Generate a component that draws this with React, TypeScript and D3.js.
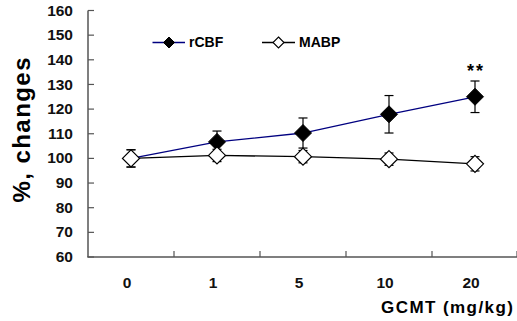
import React from "react";
import * as d3 from "d3";

const categories = ["0", "1", "5", "10", "20"];
const rcbfMean = [100, 106.7, 110.3, 117.9, 125];
const rcbfErr = [3.5, 4.4, 6.1, 7.6, 6.4];
const mabpMean = [100, 101.2, 100.7, 99.7, 97.8];
const mabpErr = [3.5, 2.5, 2.5, 2.5, 2.9];
const yTicks = [60, 70, 80, 90, 100, 110, 120, 130, 140, 150, 160];

const W = 517;
const H = 321;

export default function App() {
  const x = d3.scaleBand<string>().domain(categories).range([88, 518]).padding(0);
  const y = d3.scaleLinear().domain([60, 160]).range([257, 10.5]);
  const cx = (c: string) => (x(c) as number) + x.bandwidth() / 2;
  const line = d3
    .line<number>()
    .x((_, i) => cx(categories[i]))
    .y((d) => y(d));
  const diamond = (px: number, py: number, r: number) =>
    `M${px},${py - r}L${px + r},${py}L${px},${py + r}L${px - r},${py}Z`;
  const font = "'Liberation Sans', Arial, sans-serif";
  const axisColor = "#555";

  const errBars = (mean: number[], err: number[], key: string) =>
    mean.map((m, i) => {
      const px = cx(categories[i]);
      const t = y(m + err[i]);
      const b = y(m - err[i]);
      return (
        <g key={key + i} stroke="#000" strokeWidth={1.2}>
          <line x1={px} x2={px} y1={t} y2={b} />
          <line x1={px - 4.5} x2={px + 4.5} y1={t} y2={t} />
          <line x1={px - 4.5} x2={px + 4.5} y1={b} y2={b} />
        </g>
      );
    });

  return (
    <svg
      width={W}
      height={H}
      style={{ position: "absolute", left: 0, top: 0, background: "#fff" }}
      fontFamily={font}
    >
      <rect width={W} height={H} fill="#fff" />
      {/* axes */}
      <line x1={88} x2={88} y1={y(160)} y2={y(60)} stroke={axisColor} strokeWidth={1.5} />
      <line x1={87.25} x2={518} y1={y(60)} y2={y(60)} stroke={axisColor} strokeWidth={1.5} />
      {yTicks.map((t) => (
        <g key={"yt" + t}>
          <line x1={88} x2={94} y1={y(t)} y2={y(t)} stroke={axisColor} strokeWidth={1.2} />
          <text
            x={73}
            y={y(t) + 1}
            textAnchor="end"
            dominantBaseline="middle"
            fontSize={15.5}
            fontWeight="bold"
            fill="#111"
          >
            {t}
          </text>
        </g>
      ))}
      {categories.map((c, i) => (
        <g key={"xt" + c}>
          {i > 0 && (
            <line
              x1={x(c) as number}
              x2={x(c) as number}
              y1={y(60)}
              y2={y(60) - 6}
              stroke={axisColor}
              strokeWidth={1.2}
            />
          )}
          <text
            x={cx(c) - 4}
            y={284}
            textAnchor="middle"
            dominantBaseline="middle"
            fontSize={15.5}
            fontWeight="bold"
            fill="#111"
          >
            {c}
          </text>
        </g>
      ))}
      <line x1={517} x2={517} y1={y(60)} y2={y(60) - 6} stroke={axisColor} strokeWidth={1.2} />

      {/* titles */}
      <text
        x={381}
        y={309}
        dominantBaseline="middle"
        fontSize={17}
        fontWeight="bold"
        fill="#000"
        textLength={132}
        lengthAdjust="spacing"
      >
        GCMT (mg/kg)
      </text>
      <text
        transform="translate(30,130) rotate(-90)"
        textAnchor="middle"
        fontSize={24}
        fontWeight="bold"
        fill="#000"
        textLength={145}
        lengthAdjust="spacing"
      >
        %, changes
      </text>

      {/* series lines */}
      <path d={line(mabpMean) || ""} fill="none" stroke="#000" strokeWidth={1.3} />
      <path d={line(rcbfMean) || ""} fill="none" stroke="#000080" strokeWidth={1.3} />

      {errBars(rcbfMean, rcbfErr, "re")}
      {rcbfMean.map((m, i) => (
        <path
          key={"rm" + i}
          d={diamond(cx(categories[i]), y(m), 8.5)}
          fill="#000"
          stroke="#000"
          strokeWidth={1}
        />
      ))}
      {errBars(mabpMean, mabpErr, "me")}
      {mabpMean.map((m, i) => (
        <path
          key={"mm" + i}
          d={diamond(cx(categories[i]), y(m), 8.5)}
          fill="#fff"
          stroke="#000"
          strokeWidth={1.2}
        />
      ))}

      <text
        x={cx("20") + 1}
        y={77}
        textAnchor="middle"
        fontSize={18}
        fontWeight="bold"
        fill="#000"
        letterSpacing={2}
      >
        **
      </text>

      {/* legend */}
      <line x1={152.5} x2={185} y1={42.5} y2={42.5} stroke="#000080" strokeWidth={1.3} />
      <path d={diamond(169, 42.5, 5.5)} fill="#000" stroke="#000" />
      <text x={189} y={43} dominantBaseline="middle" fontSize={14} fontWeight="bold" fill="#000">
        rCBF
      </text>
      <line x1={262} x2={295} y1={42.5} y2={42.5} stroke="#000" strokeWidth={1.3} />
      <path d={diamond(278.5, 42.5, 5.5)} fill="#fff" stroke="#000" strokeWidth={1.1} />
      <text x={299} y={43} dominantBaseline="middle" fontSize={14} fontWeight="bold" fill="#000">
        MABP
      </text>
    </svg>
  );
}
